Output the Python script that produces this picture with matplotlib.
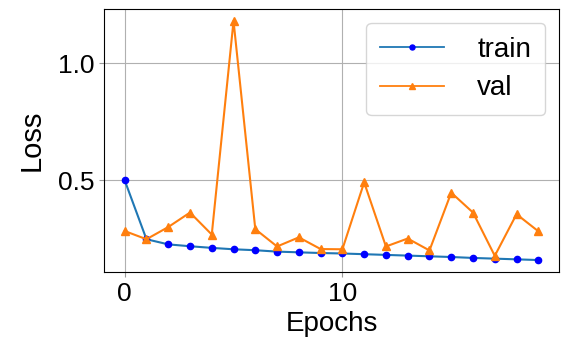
import matplotlib
matplotlib.use("Agg")
import matplotlib.pyplot as plt

plt.rcParams['font.family'] = ['Liberation Sans', 'DejaVu Sans']

# Datos
epochs = list(range(20))
train_loss = [0.500, 0.248, 0.226, 0.218, 0.211, 0.205, 0.201, 0.195, 0.192, 0.189,
              0.187, 0.184, 0.181, 0.178, 0.175, 0.172, 0.168, 0.165, 0.162, 0.159]
val_loss = [0.283, 0.248, 0.300, 0.362, 0.268, 1.181, 0.291, 0.217, 0.256, 0.206,
            0.205, 0.491, 0.217, 0.251, 0.200, 0.447, 0.362, 0.177, 0.355, 0.282]


def main():
    fig = plt.figure(figsize=(5.61, 3.39), dpi=100)
    ax = fig.add_axes([104 / 561, 1 - 272 / 339, 455 / 561, 263 / 339])

    ax.plot(epochs, train_loss, color='tab:blue', marker='o', markersize=4.5,
            markerfacecolor='#0000ff', markeredgecolor='#0000ff', label='train')
    ax.plot(epochs, val_loss, color='tab:orange', marker='^', markersize=5.5,
            label='val')

    ax.set_xticks([0, 10])
    ax.set_yticks([0.5, 1.0])
    ax.tick_params(labelsize=19, color='#999999', length=3.5)
    ax.grid(True, color='#b0b0b0')
    ax.set_xlabel('Epochs', fontsize=20, labelpad=4)
    ax.set_ylabel('Loss', fontsize=21, labelpad=9)
    leg = ax.legend(loc='upper right', fontsize=20, handlelength=2.3,
                    handletextpad=1.2, labelspacing=0.45, borderpad=0.5,
                    borderaxespad=0.5, markerscale=0.8)
    for line in leg.get_lines():
        line.set_linewidth(1.3)

    fig.savefig('out.png', dpi=100)


if __name__ == "__main__":
    main()
